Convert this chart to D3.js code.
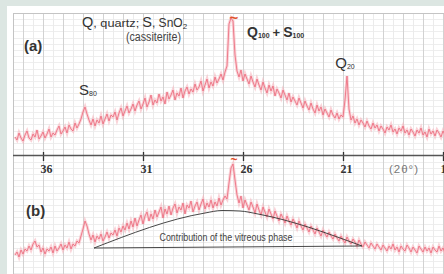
<!DOCTYPE html>
<html>
<head>
<meta charset="utf-8">
<script src="https://cdn.jsdelivr.net/npm/d3@7/dist/d3.min.js"></script>
<style>
  html, body { margin: 0; padding: 0; background: #dce6e2; }
  svg { display: block; }
</style>
</head>
<body>
<div id="chart"></div>
<script>
// sampling of both scans: 2theta from 37.4 down, step 0.1 deg
var thetaStart = 37.4, thetaStep = 0.1;

// scan (a), counts (arbitrary units)
var scanA = [
 13, 10, 17, 12, 9, 15, 19, 12, 10, 16, 13, 20, 11, 14, 18, 12, 16, 21, 13, 17,
 15, 20, 24, 16, 19, 23, 17, 25, 21, 19, 27, 22, 26, 31, 38, 43, 36, 30, 25, 31,
 24, 30, 27, 34, 26, 31, 36, 29, 35, 33, 38, 30, 37, 42, 34, 39, 44, 37, 41, 46,
 39, 45, 49, 41, 46, 52, 43, 48, 55, 45, 50, 47, 56, 49, 53, 46, 58, 51, 55, 60,
 50, 57, 54, 62, 52, 59, 63, 56, 61, 58, 66, 60, 63, 69, 59, 65, 71, 62, 68, 64,
 73, 67, 71, 76, 70, 78, 84, 126, 132, 129, 95, 79, 73, 80, 69, 76, 71, 66, 74, 68,
 63, 71, 65, 60, 68, 62, 57, 65, 59, 64, 54, 61, 57, 52, 60, 55, 50, 57, 48, 53,
 49, 45, 52, 47, 42, 49, 44, 40, 47, 41, 37, 45, 39, 43, 35, 41, 37, 33, 40, 35,
 32, 37, 31, 35, 33, 50, 74, 41, 30, 34, 27, 31, 25, 30, 27, 23, 29, 24, 21, 27,
 22, 25, 19, 24, 21, 17, 23, 20, 25, 18, 21, 16, 22, 19, 24, 17, 20, 15, 21, 18,
 14, 20, 17, 22, 15, 18, 13, 21, 16, 19, 14, 20, 17, 13, 19, 15, 18
];

// scan (b), counts (arbitrary units)
var scanB = [
 10, 13, 8, 15, 11, 16, 14, 19, 15, 21, 24, 18, 20, 13, 17, 11, 16, 14, 18, 12,
 19, 14, 17, 21, 15, 20, 17, 23, 16, 21, 19, 24, 22, 29, 36, 44, 39, 31, 25, 30,
 23, 29, 26, 31, 24, 28, 33, 27, 32, 30, 35, 29, 37, 33, 39, 35, 42, 36, 44, 38,
 47, 39, 45, 50, 41, 49, 53, 44, 51, 46, 55, 48, 53, 58, 47, 56, 51, 59, 50, 57,
 61, 52, 58, 55, 62, 51, 60, 57, 64, 53, 59, 63, 55, 61, 66, 56, 62, 58, 65, 57,
 63, 59, 67, 60, 65, 69, 66, 82, 97, 101, 85, 70, 62, 69, 57, 65, 60, 55, 63, 58,
 52, 61, 55, 50, 58, 53, 48, 56, 51, 46, 54, 49, 44, 51, 47, 42, 49, 44, 40, 46,
 42, 37, 44, 39, 35, 41, 37, 33, 39, 35, 31, 37, 33, 29, 35, 31, 28, 33, 29, 26,
 31, 27, 24, 29, 25, 22, 28, 24, 21, 26, 23, 19, 25, 21, 18, 23, 20, 17, 22, 19,
 16, 21, 18, 15, 20, 17, 14, 19, 16, 21, 15, 18, 13, 19, 16, 14, 20, 17, 13, 18,
 15, 12, 19, 16, 13, 18, 14, 17, 12, 18, 15, 13, 19, 14, 17, 12, 16
];

// estimated amorphous (vitreous) hump under scan (b)
var humpTheta = [33.45, 27.9, 27.05, 26.15, 25.25, 20.05];
var humpCounts = [17, 52, 54.5, 54, 51, 19];
var humpBase = [[33.45, 17], [20.05, 19]];

var tickValues = [36, 31, 26, 21, 16];

// peak labels of scan (a)
var peakLabels = [
  {theta: 33.75, count: 55, main: "S", sub: "80"},
  {theta: 20.9, count: 82, main: "Q", sub: "20"}
];

var W = 444, H = 274;
var plotLeft = 13, plotTop = 13, axisY = 155;

var svg = d3.select("#chart").append("svg")
    .attr("width", W)
    .attr("height", H)
    .style("font-family", "'Liberation Sans', Arial, sans-serif");

svg.append("rect").attr("width", W).attr("height", H).attr("fill", "#dce6e2");
svg.append("rect").attr("x", 7).attr("y", 6).attr("width", W - 7).attr("height", H - 6).attr("fill", "#ffffff");

var x = d3.scaleLinear().domain([36, 16]).range([43, 443]);
var yA = d3.scaleLinear().domain([0, 140]).range([150, 10]);
var yB = d3.scaleLinear().domain([0, 110]).range([265, 155]);

var defs = svg.append("defs");
defs.append("clipPath").attr("id", "plotClip")
  .append("rect").attr("x", plotLeft).attr("y", plotTop).attr("width", W - plotLeft).attr("height", H - plotTop);

// grid
var grid = svg.append("g").attr("id", "grid");
var hLines = d3.range(plotTop + 6, H, 6.2);
grid.selectAll("line.h")
    .data(hLines)
    .enter()
    .append("line")
    .attr("class", "h")
    .attr("x1", plotLeft).attr("x2", W)
    .attr("y1", function(d) {return Math.round(d) + 0.5;})
    .attr("y2", function(d) {return Math.round(d) + 0.5;})
    .attr("stroke", "#eeeeee");

var minorV = d3.range(37.5, 15.5, -0.5);
grid.selectAll("line.v")
    .data(minorV)
    .enter()
    .append("line")
    .attr("class", "v")
    .attr("x1", function(d) {return Math.round(x(d)) + 0.5;})
    .attr("x2", function(d) {return Math.round(x(d)) + 0.5;})
    .attr("y1", plotTop).attr("y2", H)
    .attr("stroke", function(d) {return (d % 1 === 0) ? "#d2d2d2" : "#ebebeb";});

svg.append("line").attr("x1", plotLeft).attr("x2", W).attr("y1", plotTop + 0.5).attr("y2", plotTop + 0.5).attr("stroke", "#c4c4c4");
svg.append("line").attr("x1", plotLeft + 0.5).attr("x2", plotLeft + 0.5).attr("y1", plotTop).attr("y2", H).attr("stroke", "#c4c4c4");

// scans
var plots = svg.append("g").attr("clip-path", "url(#plotClip)");

function thetaAt(i) { return thetaStart - thetaStep * i; }

var lineA = d3.line()
    .x(function(d, i) {return x(thetaAt(i));})
    .y(function(d) {return yA(d);});
var lineB = d3.line()
    .x(function(d, i) {return x(thetaAt(i));})
    .y(function(d) {return yB(d);});

plots.append("path").datum(scanA).attr("d", lineA)
    .attr("fill", "none").attr("stroke", "#f6b6be").attr("stroke-width", 3).attr("opacity", 0.6);
plots.append("path").datum(scanA).attr("d", lineA)
    .attr("fill", "none").attr("stroke", "#ec6c7e").attr("stroke-width", 1).attr("opacity", 0.85);

plots.append("path").datum(scanB).attr("d", lineB)
    .attr("fill", "none").attr("stroke", "#f6b6be").attr("stroke-width", 3).attr("opacity", 0.6);
plots.append("path").datum(scanB).attr("d", lineB)
    .attr("fill", "none").attr("stroke", "#ec6c7e").attr("stroke-width", 1).attr("opacity", 0.85);

// vitreous hump
var hump = humpTheta.map(function(t, i) {return [t, humpCounts[i]];});
svg.append("path").datum(hump)
    .attr("d", d3.line().x(function(d) {return x(d[0]);}).y(function(d) {return yB(d[1]);}).curve(d3.curveMonotoneX))
    .attr("fill", "none").attr("stroke", "#333333").attr("stroke-width", 0.9);
svg.append("path").datum(humpBase)
    .attr("d", d3.line().x(function(d) {return x(d[0]);}).y(function(d) {return yB(d[1]);}))
    .attr("fill", "none").attr("stroke", "#333333").attr("stroke-width", 0.9);
svg.append("text")
    .attr("x", x(26.85)).attr("y", yB(24.5))
    .attr("text-anchor", "middle")
    .attr("font-size", 10.5)
    .attr("fill", "#444444")
    .attr("textLength", 133).attr("lengthAdjust", "spacingAndGlyphs")
    .text("Contribution of the vitreous phase");

// axis
var axis = svg.append("g").attr("transform", "translate(0," + axisY + ")");
axis.call(d3.axisBottom(x).tickValues(tickValues).tickSize(0).tickFormat(""));
axis.select(".domain").remove();
axis.append("line").attr("x1", plotLeft).attr("x2", W).attr("y1", 0.5).attr("y2", 0.5)
    .attr("stroke", "#555555").attr("stroke-width", 1.3);
axis.selectAll(".tick").append("line")
    .attr("y1", -3).attr("y2", 6).attr("stroke", "#333333").attr("stroke-width", 1.3);
axis.selectAll(".tick").append("text")
    .attr("x", 3).attr("y", 18)
    .attr("text-anchor", "middle")
    .attr("fill", "#333333")
    .style("font-family", "'Liberation Serif', 'DejaVu Serif', serif")
    .style("font-weight", "bold")
    .style("font-size", "12px")
    .text(function(d) {return d;});
axis.append("text")
    .attr("x", x(17.95)).attr("y", 18)
    .attr("text-anchor", "middle")
    .attr("fill", "#777777")
    .attr("font-size", 11.5)
    .attr("letter-spacing", 1)
    .text("(2\u03b8\u00b0)");

// panel labels
svg.append("text").attr("x", 24).attr("y", 51)
    .attr("font-size", 15).attr("font-weight", "bold").attr("fill", "#333333").text("(a)");
svg.append("text").attr("x", 26).attr("y", 216)
    .attr("font-size", 15).attr("font-weight", "bold").attr("fill", "#333333").text("(b)");

// legend of phases
var leg = svg.append("text").attr("x", 82).attr("y", 27).attr("fill", "#333333");
leg.append("tspan").attr("font-size", 14.5).text("Q");
leg.append("tspan").attr("font-size", 11).attr("textLength", 46).attr("lengthAdjust", "spacingAndGlyphs").text(", quartz;");
leg.append("tspan").attr("font-size", 14.5).attr("dx", 3).text("S");
leg.append("tspan").attr("font-size", 12).text(", SnO");
leg.append("tspan").attr("font-size", 8).attr("dy", 2).text("2");
svg.append("text").attr("x", 126).attr("y", 41).attr("fill", "#444444")
    .attr("font-size", 12).attr("textLength", 55).attr("lengthAdjust", "spacingAndGlyphs")
    .text("(cassiterite)");

// broken main peak markers
svg.append("text").attr("x", x(26.45)).attr("y", 23).attr("text-anchor", "middle")
    .attr("font-size", 15).attr("font-weight", "bold").attr("fill", "#e0502a").text("~");
svg.append("text").attr("x", x(26.45)).attr("y", 164).attr("text-anchor", "middle")
    .attr("font-size", 12).attr("font-weight", "bold").attr("fill", "#e0502a").text("~");

// main peak label
var qs = svg.append("text").attr("x", 247).attr("y", 37).attr("fill", "#333333").attr("font-weight", "bold");
qs.append("tspan").attr("font-size", 14).text("Q");
qs.append("tspan").attr("font-size", 7).attr("dy", 1).text("100");
qs.append("tspan").attr("font-size", 13).attr("dy", -1).attr("dx", 3).text("+");
qs.append("tspan").attr("font-size", 14).attr("dx", 3).text("S");
qs.append("tspan").attr("font-size", 7).attr("dy", 1).text("100");

// minor peak labels
peakLabels.forEach(function(p) {
  var t = svg.append("text")
      .attr("x", x(p.theta)).attr("y", yA(p.count))
      .attr("text-anchor", "middle")
      .attr("fill", "#333333");
  t.append("tspan").attr("font-size", 15).text(p.main);
  t.append("tspan").attr("font-size", 7).attr("dy", 1).text(p.sub);
});
</script>
</body>
</html>
